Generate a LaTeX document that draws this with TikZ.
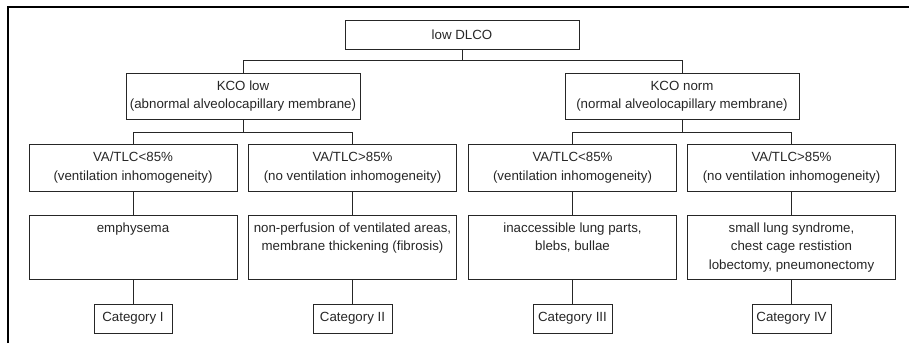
\documentclass[tikz,border=0pt]{standalone}
\usepackage{fontspec}
\setmainfont{Liberation Sans}
\begin{document}
\begin{tikzpicture}[x=1pt,y=-1pt,
  every node/.style={font=\fontsize{13.3}{18.5}\selectfont, text=black!85},
  box/.style={draw=black!85, line width=0.8pt, inner sep=0pt, align=center},
  topbox/.style={box, minimum width=234, minimum height=29},
  kbox/.style={box, minimum width=234, minimum height=46},
  vbox/.style={box, minimum width=208, minimum height=47},
  dbox/.style={box},
  cbox/.style={box, minimum width=79, minimum height=29},
  conn/.style={draw=black!85, line width=0.8pt}]
\useasboundingbox (0,0) rectangle (909,343);
\draw[line width=2.2pt] (8,343) -- (8,7) -- (909,7);

\node[topbox] (top) at (462,34.5) {low DLCO};
\node[kbox] (kl) at (243,96) {KCO low\\(abnormal alveolocapillary membrane)};
\node[kbox] (kn) at (682,96) {KCO norm\\(normal alveolocapillary membrane)};

\node[vbox] (v1) at (133,167.5) {VA/TLC<85\%\\(ventilation inhomogeneity)};
\node[vbox] (v2) at (352.5,167.5) {VA/TLC>85\%\\(no ventilation inhomogeneity)};
\node[vbox] (v3) at (572.5,167.5) {VA/TLC<85\%\\(ventilation inhomogeneity)};
\node[vbox] (v4) at (791.5,167.5) {VA/TLC>85\%\\(no ventilation inhomogeneity)};

\newcommand{\dtext}[1]{\parbox[c][64pt][t]{208pt}{\centering\vspace*{7.5pt}#1}}
\node[dbox] (d1) at (133,247) {\dtext{emphysema}};
\node[dbox] (d2) at (352.5,247) {\dtext{non-perfusion of ventilated areas,\\membrane thickening (fibrosis)}};
\node[dbox] (d3) at (572.5,247) {\dtext{inaccessible lung parts,\\blebs, bullae}};
\node[dbox] (d4) at (791.5,247) {\dtext{small lung syndrome,\\chest cage restistion\\lobectomy, pneumonectomy}};

\node[cbox, minimum width=78] (c1) at (133,318.5) {Category I};
\node[cbox] (c2) at (352.5,318.5) {Category II};
\node[cbox] (c3) at (572.5,318.5) {Category III};
\node[cbox] (c4) at (791.5,318.5) {Category IV};

\path[conn] (top.south) -- ++(0,11) coordinate (tj);
\path[conn] (tj) -| (kl.north);
\path[conn] (tj) -| (kn.north);
\path[conn] (kl.south) -- ++(0,13) coordinate (lj);
\path[conn] (lj) -| (v1.north);
\path[conn] (lj) -| (v2.north);
\path[conn] (kn.south) -- ++(0,13) coordinate (rj);
\path[conn] (rj) -| (v3.north);
\path[conn] (rj) -| (v4.north);
\foreach \i in {1,2,3,4} {
  \path[conn] (v\i.south) -- (d\i.north);
  \path[conn] (d\i.south) -- (c\i.north);
}
\end{tikzpicture}
\end{document}
